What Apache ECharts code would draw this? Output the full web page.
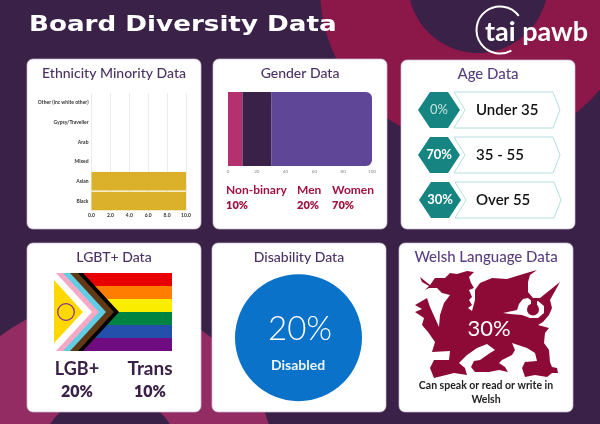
<!DOCTYPE html>
<html>
<head>
<meta charset="utf-8">
<style>html,body{margin:0;padding:0;background:#3a2147}#main{width:600px;height:424px}</style>
<script src="https://cdn.jsdelivr.net/npm/echarts@6/dist/echarts.min.js"></script>
</head>
<body>
<div id="main"></div>
<script>
// data
const ethnicGroups = ['Black', 'Asian', 'Mixed', 'Arab', 'Gypsy/Traveller', 'Other (inc white other)'];
const ethnicValues = [10, 10, 0, 0, 0, 0];
const genderNames = ['Non-binary', 'Men', 'Women'];
const genderValues = [10, 20, 70];
const genderShown = ['10%', '20%', '70%'];
const ageNames = ['Under 35', '35 - 55', 'Over 55'];
const ageShown = ['0%', '70%', '30%'];
const lgbtNames = ['LGB+', 'Trans'];
const lgbtShown = ['20%', '10%'];
const disabilityValue = 20;
const welshShown = '30%';

const dark = '#3a2147';
const titleColor = '#4b3263';
const crimson = '#a0123f';
const dragonColor = '#8e0a36';
const font = 'Lato';

const cards = [
    [27, 59, 174, 170, 'Ethnicity Minority Data', 14, titleColor],
    [213, 59, 174, 170, 'Gender Data', 14, titleColor],
    [401, 60, 174, 169, 'Age Data', 15, '#5a3f80'],
    [27, 243, 174, 169, 'LGBT+ Data', 14, titleColor],
    [212, 243, 174, 169, 'Disability Data', 14, titleColor],
    [399, 243, 174, 169, 'Welsh Language Data', 15, '#5a3f80']
];

// dragon outline
const dragonOutline = [[420,277],[430,285],[435,278],[445,278],[450,273],[457,274],[467,271],[474,272],[469,277],[471,283],[474,288],[469,290],[472,297],[469,300],[472,305],[468,308],[472,311],[475,300],[475,290],[480,283],[492,278],[507,279],[520,275],[530,272],[537,270],[530,275],[528,282],[528,292],[533,298],[540,298],[560,282],[550,300],[552,308],[549,315],[543,322],[538,325],[549,328],[545,333],[544,343],[549,350],[550,362],[552,367],[557,368],[558,373],[552,373],[547,377],[535,375],[525,377],[522,368],[525,362],[537,361],[535,353],[527,348],[512,343],[515,350],[512,355],[502,360],[499,363],[505,367],[508,372],[499,370],[489,372],[475,372],[471,367],[474,361],[480,360],[490,353],[495,350],[487,344],[477,348],[467,355],[459,363],[465,368],[467,375],[454,373],[434,378],[430,368],[434,360],[449,360],[450,351],[432,352],[435,342],[428,332],[422,325],[424,318],[415,312],[422,309],[415,305],[422,301],[427,298],[430,307],[439,327],[440,315],[444,303],[450,295],[442,293],[437,288],[429,288],[425,290],[429,286],[422,282]];
const dragonGap = [[503,313],[517,310],[519,304],[523,299],[528,298],[533,302],[535,302],[538,301],[544,306],[544,313],[538,318],[530,318],[522,315],[510,314]];

const label = function (text, x, y, size, color, weight, align) {
    return {
        type: 'text', z: 20, silent: true,
        style: {
            text: text, x: x, y: y, fill: color,
            font: (weight || 400) + ' ' + size + 'px ' + font,
            align: align || 'center', verticalAlign: 'middle'
        }
    };
};
const poly = function (points, fill, stroke) {
    return {
        type: 'polygon', z: 3, silent: true,
        shape: {points: points},
        style: {fill: fill, stroke: stroke || null, lineWidth: stroke ? 1 : 0}
    };
};

const graphics = [];
// background
[[478, -11, 158, '#8c1749'], [478, -17, 70, dark], [105, 470, 170, '#922c63'], [110, 464, 72, dark]].forEach(c => {
    graphics.push({type: 'circle', z: -10, silent: true, shape: {cx: c[0], cy: c[1], r: c[2]}, style: {fill: c[3]}});
});
cards.forEach(c => {
    graphics.push({
        type: 'rect', z: -5, silent: true,
        shape: {x: c[0], y: c[1], width: c[2], height: c[3], r: 6},
        style: {fill: '#fff', stroke: 'rgba(205,190,215,0.7)', lineWidth: 1}
    });
    graphics.push(label(c[4], c[0] + c[2] / 2, c[1] + 14, c[5], c[6], 500));
});
// heading, stretched because the canvas text has no letter spacing
graphics.push({
    type: 'text', z: 20, silent: true, x: 29, y: 25, scaleX: 1.19,
    style: {text: 'Board Diversity Data', fill: '#fff', font: '800 22px "DejaVu Sans"', verticalAlign: 'middle'}
});
// logo
graphics.push({
    type: 'arc', z: 5, silent: true,
    shape: {cx: 500, cy: 30, r: 23.5, startAngle: -37 * Math.PI / 180, endAngle: 61 * Math.PI / 180, clockwise: false},
    style: {stroke: '#fff', lineWidth: 2, fill: null}
});
graphics.push(label('tai pawb', 485, 32, 27, '#fff', 700, 'left'));

// gender captions
[226, 297, 332].forEach((x, i) => {
    graphics.push(label(genderNames[i], x, 190, 12, crimson, 700, 'left'));
    graphics.push(label(genderShown[i], x, 205, 11, crimson, 800, 'left'));
});

// age rows
[[439, 110], [439, 155], [440, 200]].forEach((c, i) => {
    const x = c[0], y = c[1];
    graphics.push(poly([[x - 21, y], [x - 9, y - 18], [x + 9, y - 18], [x + 21, y], [x + 9, y + 18], [x - 9, y + 18]], '#168480'));
    graphics.push(poly([[x + 15, y - 18], [x + 114, y - 18], [x + 121, y], [x + 114, y + 18], [x + 15, y + 18], [x + 26, y]], '#fff', '#b5dfdc'));
    graphics.push(label(ageShown[i], x, y, 13, i === 0 ? '#c4e4e1' : '#fff', i === 0 ? 400 : 700));
    graphics.push(label(ageNames[i], 476, y, 15, '#111', 600, 'left'));
});

// flag
['#e80000', '#ff7d00', '#fbed00', '#008240', '#2250ab', '#6f0d80'].forEach((col, i) => {
    graphics.push({type: 'rect', z: 3, silent: true, shape: {x: 54, y: 273 + i * 13, width: 118, height: 13}, style: {fill: col}});
});
[[119, '#000'], [114, '#613915'], [106, '#5fcde4'], [99, '#f5a9c4'], [92, '#fff']].forEach(l => {
    const tip = l[0];
    graphics.push(Object.assign(poly([[54, 273], [tip - 36, 273], [tip, 312], [tip - 36, 351], [54, 351]], l[1]), {z: 4}));
});
graphics.push(Object.assign(poly([[54, 280], [83, 312], [54, 343]], '#ffd800'), {z: 4}));
graphics.push({type: 'circle', z: 5, silent: true, shape: {cx: 66, cy: 312, r: 8.3}, style: {fill: null, stroke: '#7b2c9a', lineWidth: 1.2}});
[77, 150].forEach((x, i) => {
    graphics.push(label(lgbtNames[i], x, 369, i === 0 ? 18 : 19, dark, 700));
    graphics.push(label(lgbtShown[i], x, 392, 16, dark, 800));
});

// disability text sits on the pie
graphics.push(label(disabilityValue + '%', 300, 329, 33, '#fff', 300));
graphics.push(label('Disabled', 298, 365, 14, '#f0f5fb', 700));

// welsh
graphics.push(Object.assign(poly(dragonOutline, dragonColor), {z: 4}));
graphics.push(Object.assign(poly(dragonGap, '#fff'), {z: 5}));
graphics.push({type: 'circle', z: 6, silent: true, shape: {cx: 533, cy: 309.5, r: 6}, style: {fill: dragonColor}});
graphics.push(Object.assign(poly([[531, 298], [537, 298], [537, 306], [531, 306]], dragonColor), {z: 6}));
graphics.push(label(welshShown, 489, 329, 22, '#fff', 400));
graphics.push(label('Can speak or read or write in', 486, 386, 10.5, '#222', 700));
graphics.push(label('Welsh', 486, 400, 10.5, '#222', 700));

const genderColors = ['#b5306f', dark, '#604696'];

const chart = echarts.init(document.getElementById('main'));
chart.setOption({
    animation: false,
    backgroundColor: dark,
    graphic: {elements: graphics},
    grid: [
        {left: 91.5, top: 93, width: 94.5, height: 117.8},
        {left: 228, top: 92, width: 144, height: 74}
    ],
    xAxis: [
        {
            type: 'value', gridIndex: 0, min: 0, max: 10, interval: 2,
            axisLine: {show: false}, axisTick: {show: false},
            splitLine: {lineStyle: {color: '#ececec', width: 1}},
            axisLabel: {formatter: v => v.toFixed(1), fontSize: 5, fontWeight: 700, color: '#333', fontFamily: font, margin: 2}
        },
        {
            type: 'value', gridIndex: 1, min: 0, max: 100, interval: 20,
            axisLine: {show: false}, axisTick: {show: false}, splitLine: {show: false},
            axisLabel: {fontSize: 4.5, color: '#888', fontFamily: font, margin: 3}
        }
    ],
    yAxis: [
        {
            type: 'category', gridIndex: 0, data: ethnicGroups,
            axisLine: {show: false}, axisTick: {show: false},
            axisLabel: {fontSize: 5, fontWeight: 700, color: '#333', fontFamily: font, margin: 3}
        },
        {type: 'category', gridIndex: 1, data: ['Gender'], show: false}
    ],
    series: [
        {
            type: 'bar', xAxisIndex: 0, yAxisIndex: 0, data: ethnicValues, barWidth: 18.5,
            itemStyle: {color: '#dbb02a'}
        }
    ].concat(genderValues.map((v, i) => ({
        type: 'bar', xAxisIndex: 1, yAxisIndex: 1, stack: 'gender', name: genderNames[i],
        data: [v], barWidth: '100%',
        itemStyle: {color: genderColors[i], borderRadius: i === 2 ? [0, 6, 6, 0] : 0}
    }))).concat([
        {
            type: 'pie', center: [298.5, 337.7], radius: [0, 63.5], silent: true,
            label: {show: false}, labelLine: {show: false},
            data: [{name: 'Disabled', value: disabilityValue, itemStyle: {color: '#0a72c9'}}]
        }
    ])
});
</script>
</body>
</html>
